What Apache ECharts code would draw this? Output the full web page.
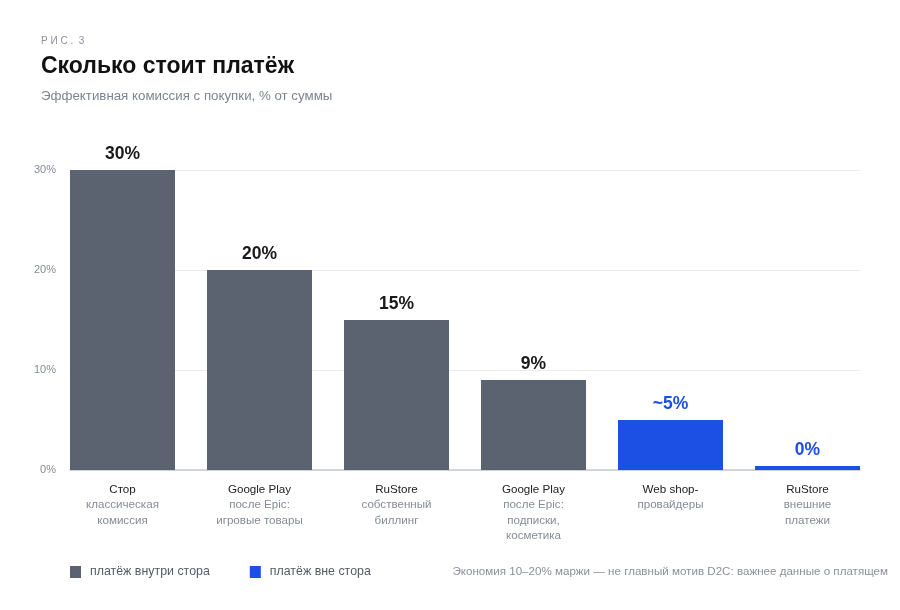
<!DOCTYPE html>
<html>
<head>
<meta charset="utf-8">
<script src="https://cdn.jsdelivr.net/npm/echarts@6/dist/echarts.min.js"></script>
<style>
  html, body { margin: 0; padding: 0; background: #fff; }
  #main { width: 900px; height: 610px; }
</style>
</head>
<body>
<div id="main"></div>
<script>
var categories = ['Стор', 'Google Play', 'RuStore', 'Google Play', 'Web shop-', 'RuStore']
var subLabels = [
  'классическая\nкомиссия',
  'после Epic:\nигровые товары',
  'собственный\nбиллинг',
  'после Epic:\nподписки,\nкосметика',
  'провайдеры',
  'внешние\nплатежи'
]
var insideStore = [30, 20, 15, 9, '-', '-']
var outsideStore = ['-', '-', '-', '-', 5, 0]
var valueLabels = ['30%', '20%', '15%', '9%', '~5%', '0%']
var yTicks = [0, 10, 20, 30]

var GRAY = '#5b6371'
var BLUE = '#1c4fe3'
var FONT = '"Liberation Sans", Arial, sans-serif'

var chart = echarts.init(document.getElementById('main'))

var option = {
  animation: false,
  textStyle: { fontFamily: FONT },
  // grid 0: gridlines and baseline, grid 1: bars (wider band so bars touch the plot edges)
  grid: [
    { left: 70, right: 40, top: 170, bottom: 140 },
    { left: 54, right: 24, top: 170, bottom: 140 }
  ],
  graphic: [
    { type: 'text', left: 41, top: 36, style: { text: 'Р И С .  3', fill: '#8b909b', font: '400 10px ' + FONT } },
    { type: 'text', left: 41, top: 55, style: { text: 'Сколько стоит платёж', fill: '#111', font: '700 23px ' + FONT } },
    { type: 'text', left: 41, top: 90, style: { text: 'Эффективная комиссия с покупки, % от суммы', fill: '#7d8390', font: '400 13.3px ' + FONT } },
    { type: 'text', right: 12, top: 566, style: { text: 'Экономия 10–20% маржи — не главный мотив D2C: важнее данные о платящем', fill: '#8b909b', font: '400 11.6px ' + FONT } }
  ],
  legend: {
    left: 70,
    top: 566,
    itemWidth: 11,
    itemHeight: 12,
    itemGap: 40,
    icon: 'rect',
    padding: 0,
    textStyle: { color: '#555b66', fontSize: 12.4, fontFamily: FONT, padding: [0, 0, 0, 4] },
    data: ['платёж внутри стора', 'платёж вне стора']
  },
  xAxis: [
    {
      type: 'category',
      gridIndex: 0,
      data: categories,
      axisTick: { show: false },
      axisLabel: { show: false },
      axisLine: { lineStyle: { color: '#c5cad4', width: 1.5 } }
    },
    {
      type: 'category',
      gridIndex: 1,
      data: categories,
      axisTick: { show: false },
      axisLine: { show: false },
      axisLabel: {
        interval: 0,
        margin: 12,
        formatter: function (v, i) {
          return '{a|' + v + '}\n{b|' + subLabels[i] + '}'
        },
        rich: {
          a: { color: '#222', fontSize: 11.6, fontWeight: 'normal', lineHeight: 15.5, fontFamily: FONT },
          b: { color: '#868b96', fontSize: 11.6, fontWeight: 'normal', lineHeight: 15.5, fontFamily: FONT }
        }
      }
    }
  ],
  yAxis: [
    {
      type: 'value',
      gridIndex: 0,
      min: 0,
      max: 30,
      interval: 10,
      axisLabel: {
        color: '#868b96',
        fontSize: 11,
        margin: 14,
        formatter: function (v) { return yTicks.indexOf(v) >= 0 ? v + '%' : '' }
      },
      splitLine: { lineStyle: { color: '#e9e9f0' } },
      axisLine: { show: false },
      axisTick: { show: false }
    },
    {
      type: 'value',
      gridIndex: 1,
      min: 0,
      max: 30,
      interval: 10,
      show: false
    }
  ],
  series: [
    {
      name: 'платёж внутри стора',
      type: 'bar',
      xAxisIndex: 1,
      yAxisIndex: 1,
      stack: 'all',
      barWidth: 105,
      itemStyle: { color: GRAY },
      label: {
        show: true,
        position: 'top',
        distance: 7,
        color: '#1a1a1a',
        fontSize: 17.5,
        fontWeight: 'bold',
        fontFamily: FONT,
        formatter: function (p) { return valueLabels[p.dataIndex] }
      },
      data: insideStore
    },
    {
      name: 'платёж вне стора',
      type: 'bar',
      xAxisIndex: 1,
      yAxisIndex: 1,
      stack: 'all',
      barWidth: 105,
      barMinHeight: 4,
      itemStyle: { color: BLUE },
      label: {
        show: true,
        position: 'top',
        distance: 7,
        color: BLUE,
        fontSize: 17.5,
        fontWeight: 'bold',
        fontFamily: FONT,
        formatter: function (p) { return valueLabels[p.dataIndex] }
      },
      data: outsideStore
    }
  ]
}

chart.setOption(option)
</script>
</body>
</html>
